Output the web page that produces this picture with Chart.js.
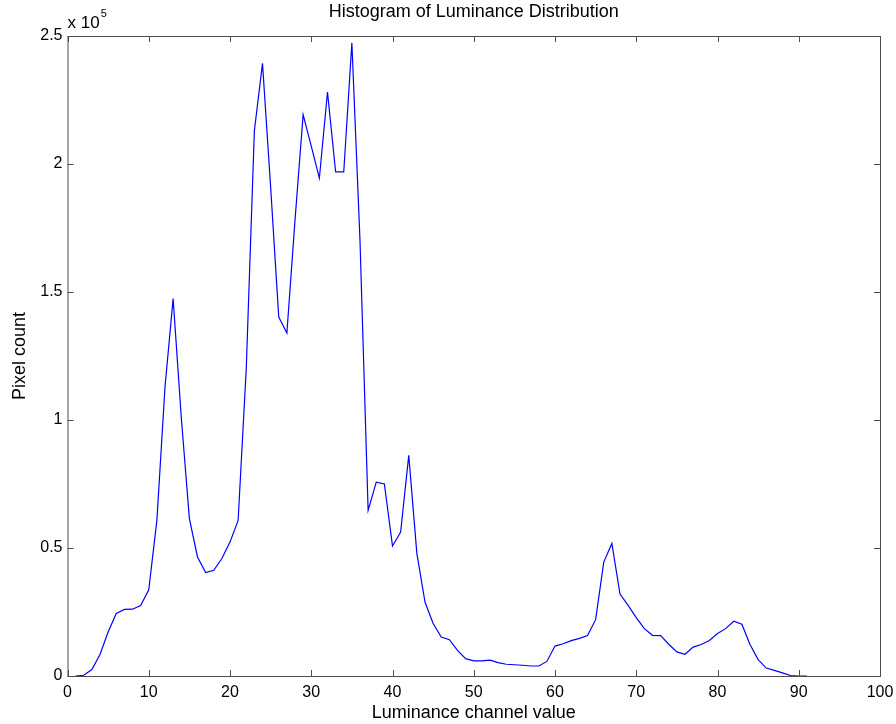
<!DOCTYPE html>
<html>
<head>
<meta charset="utf-8">
<script src="https://cdn.jsdelivr.net/npm/chart.js@4.4.1/dist/chart.umd.min.js"></script>
<style>
  html, body { margin: 0; padding: 0; background: #fff; }
  #histChart { display: block; }
</style>
</head>
<body>
<canvas id="histChart" width="896" height="724"></canvas>
<script>
// Luminance histogram
const luminance = [
     1,  2,  3,  4,  5,  6,  7,  8,  9, 10,
    11, 12, 13, 14, 15, 16, 17, 18, 19, 20,
    21, 22, 23, 24, 25, 26, 27, 28, 29, 30,
    31, 32, 33, 34, 35, 36, 37, 38, 39, 40,
    41, 42, 43, 44, 45, 46, 47, 48, 49, 50,
    51, 52, 53, 54, 55, 56, 57, 58, 59, 60,
    61, 62, 63, 64, 65, 66, 67, 68, 69, 70,
    71, 72, 73, 74, 75, 76, 77, 78, 79, 80,
    81, 82, 83, 84, 85, 86, 87, 88, 89, 90,
    91
];
const pixelCount = [
       0,    300,   2500,   8400,  17200,  24400,  26000,  26100,  27500,  33700,
   60800, 112900, 147400, 101200,  61500,  46500,  40400,  41300,  45900,  52300,
   60800, 120000, 213000, 239300, 191000, 140200, 134000, 178000, 219300, 207000,
  194500, 228100, 196900, 196900, 247300, 170000,  64700,  75700,  75000,  50800,
   56200,  86200,  47800,  28900,  20500,  15200,  14200,  10000,   6800,   5900,
    5900,   6200,   5200,   4600,   4400,   4200,   3900,   3900,   5700,  11700,
   12600,  13800,  14700,  15800,  22000,  44500,  51800,  32000,  27600,  22800,
   18500,  15900,  15800,  12400,   9400,   8500,  11300,  12300,  13900,  16600,
   18500,  21400,  20200,  12300,   6400,   3100,   2200,   1200,    200,      0,
       0
];
const xTicks = [0, 10, 20, 30, 40, 50, 60, 70, 80, 90, 100];
const yTicks = [0, 50000, 100000, 150000, 200000, 250000];

const FONT = 'Liberation Sans, Arial, Helvetica, sans-serif';
const AXIS_COLOR = '#4d4d4d';

// MATLAB-style box with inward ticks + "x 10^5" exponent label
const matlabFrame = {
    id: 'matlabFrame',
    afterDatasetsDraw(chart) {
        const { ctx, chartArea: a, scales } = chart;
        const len = 6;
        ctx.save();
        ctx.strokeStyle = AXIS_COLOR;
        ctx.lineWidth = 1;
        ctx.strokeRect(a.left + 0.5, a.top + 0.5, a.right - a.left, a.bottom - a.top);
        ctx.beginPath();
        xTicks.forEach(v => {
            const px = Math.round(scales.x.getPixelForValue(v)) + 0.5;
            ctx.moveTo(px, a.bottom); ctx.lineTo(px, a.bottom - len);
            ctx.moveTo(px, a.top); ctx.lineTo(px, a.top + len);
        });
        yTicks.forEach(v => {
            const py = Math.round(scales.y.getPixelForValue(v)) + 0.5;
            ctx.moveTo(a.left, py); ctx.lineTo(a.left + len, py);
            ctx.moveTo(a.right, py); ctx.lineTo(a.right - len, py);
        });
        ctx.stroke();

        // exponent label
        ctx.fillStyle = '#000';
        ctx.textBaseline = 'alphabetic';
        ctx.textAlign = 'left';
        ctx.font = '17px ' + FONT;
        ctx.fillText('x 10', a.left, 28);
        const w = ctx.measureText('x 10').width;
        ctx.font = '11px ' + FONT;
        ctx.fillText('5', a.left + w + 1, 17);
        ctx.restore();
    }
};

const ctx = document.getElementById('histChart').getContext('2d');
new Chart(ctx, {
    type: 'line',
    data: {
        datasets: [{
            data: luminance.map((x, i) => ({ x, y: pixelCount[i] })),
            borderColor: '#0000ff',
            borderWidth: 1.2,
            pointRadius: 0,
            tension: 0,
            fill: false,
        }]
    },
    options: {
        responsive: false,
        devicePixelRatio: 1,
        animation: false,
        layout: { padding: { top: 0, right: 16, bottom: 0, left: 0 } },
        plugins: {
            legend: { display: false },
            tooltip: { enabled: false },
            title: {
                display: true,
                fullSize: false,
                text: 'Histogram of Luminance Distribution',
                color: '#000',
                font: { size: 18, weight: 'normal', family: FONT },
                padding: { top: 1.5, bottom: 12.9 },
            },
        },
        scales: {
            x: {
                type: 'linear',
                min: 0,
                max: 100,
                afterBuildTicks: s => { s.ticks = xTicks.map(v => ({ value: v })); },
                afterFit: s => { s.height = 48; s.paddingRight = 12; },
                grid: { display: false, drawTicks: false },
                border: { display: false },
                ticks: {
                    color: '#000',
                    padding: 7,
                    maxRotation: 0,
                    autoSkip: false,
                    font: { size: 16, family: FONT },
                },
                title: {
                    display: true,
                    text: 'Luminance channel value',
                    color: '#000',
                    font: { size: 18, family: FONT },
                    padding: { top: 0, bottom: 0 },
                },
            },
            y: {
                type: 'linear',
                min: 0,
                max: 250000,
                afterBuildTicks: s => { s.ticks = yTicks.map(v => ({ value: v })); },
                afterFit: s => { s.width = 67.5; },
                grid: { display: false, drawTicks: false },
                border: { display: false },
                ticks: {
                    color: '#000',
                    padding: 5,
                    autoSkip: false,
                    font: { size: 16, family: FONT },
                    callback: v => String(v / 100000),
                },
                title: {
                    display: true,
                    text: 'Pixel count',
                    color: '#000',
                    font: { size: 18, family: FONT },
                    padding: { top: 9, bottom: 0 },
                },
            },
        },
    },
    plugins: [matlabFrame],
});
</script>
</body>
</html>
